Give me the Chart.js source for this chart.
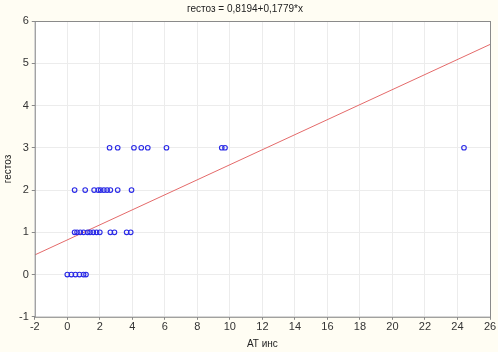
<!DOCTYPE html>
<html>
<head>
<meta charset="utf-8">
<script src="https://cdn.jsdelivr.net/npm/chart.js@4/dist/chart.umd.min.js"></script>
<style>
  html, body { margin: 0; padding: 0; background: #fffdf3; }
  #wrap { width: 498px; height: 352px; }
</style>
</head>
<body>
<div id="wrap"><canvas id="chart" width="498" height="352"></canvas></div>
<script>
// значения
const atIns0 = [0.0, 0.25, 0.5, 0.75, 1.0, 1.15];
const atIns1 = [0.45, 0.6, 0.8, 1.0, 1.25, 1.4, 1.6, 1.8, 2.0, 2.65, 2.9, 3.65, 3.9];
const atIns2 = [0.45, 1.1, 1.65, 1.9, 2.05, 2.25, 2.45, 2.65, 3.1, 3.95];
const atIns3 = [2.6, 3.1, 4.1, 4.55, 4.95, 6.1, 9.5, 9.7, 24.4];
const gestozLevels = [0, 1, 2, 3];
const intercept = 0.8194;
const slope = 0.1779;
const xTicks = [-2, 0, 2, 4, 6, 8, 10, 12, 14, 16, 18, 20, 22, 24, 26];
const yTicks = [-1, 0, 1, 2, 3, 4, 5, 6];

const groups = [atIns0, atIns1, atIns2, atIns3];
const points = [];
groups.forEach((xs, i) => xs.forEach(x => points.push({ x: x, y: gestozLevels[i] })));
const fitLine = [xTicks[0], xTicks[xTicks.length - 1]].map(x => ({ x: x, y: intercept + slope * x }));

const bgPlugin = {
  id: "bg",
  beforeDraw(chart) {
    const { ctx, chartArea: a } = chart;
    ctx.save();
    ctx.fillStyle = "#fffdf3";
    ctx.fillRect(0, 0, chart.width, chart.height);
    ctx.fillStyle = "#ffffff";
    ctx.fillRect(a.left, a.top, a.right - a.left, a.bottom - a.top);
    ctx.restore();
  },
  afterDraw(chart) {
    const { ctx, chartArea: a } = chart;
    ctx.save();
    ctx.strokeStyle = "#8a8a8a";
    ctx.lineWidth = 1;
    ctx.strokeRect(a.left + 0.5, a.top + 0.5, a.right - a.left, a.bottom - a.top);
    ctx.restore();
  }
};

const font = { family: "'Liberation Sans', Arial, sans-serif", size: 11 };

new Chart(document.getElementById("chart"), {
  type: "scatter",
  data: {
    datasets: [
      {
        data: points,
        showLine: false,
        pointStyle: "circle",
        pointRadius: 2.3,
        borderColor: "#2a2ae6",
        borderWidth: 1.1,
        backgroundColor: "rgba(0,0,0,0)"
      },
      {
        type: "line",
        data: fitLine,
        borderColor: "#e46a6a",
        borderWidth: 1,
        pointRadius: 0,
        fill: false
      }
    ]
  },
  options: {
    responsive: false,
    animation: false,
    layout: { padding: { left: 0, right: 8, top: 0, bottom: 2 } },
    plugins: {
      legend: { display: false },
      tooltip: { enabled: false },
      title: {
        display: true,
        text: "гестоз = 0,8194+0,1779*x",
        color: "#222",
        font: { family: font.family, size: 10, weight: "normal" },
        padding: { top: 3, bottom: 6 }
      }
    },
    scales: {
      x: {
        type: "linear",
        min: -2,
        max: 26,
        afterBuildTicks: axis => { axis.ticks = xTicks.map(v => ({ value: v })); },
        grid: { color: "#ececec", drawTicks: true, tickLength: 3, tickColor: "#8a8a8a" },
        border: { display: false },
        ticks: { color: "#333", font: font, padding: 1, maxRotation: 0 },
        title: { display: true, text: "АТ инс", color: "#222", font: { family: font.family, size: 10 }, padding: { top: 3, bottom: 0 } }
      },
      y: {
        type: "linear",
        min: -1,
        max: 6,
        afterBuildTicks: axis => { axis.ticks = yTicks.map(v => ({ value: v })); },
        grid: { color: "#ececec", drawTicks: true, tickLength: 3, tickColor: "#8a8a8a" },
        border: { display: false },
        ticks: { color: "#333", font: font, padding: 3 },
        title: { display: true, text: "гестоз", color: "#222", font: { family: font.family, size: 10 }, padding: { top: 2, bottom: 2 } }
      }
    }
  },
  plugins: [bgPlugin]
});
</script>
</body>
</html>
